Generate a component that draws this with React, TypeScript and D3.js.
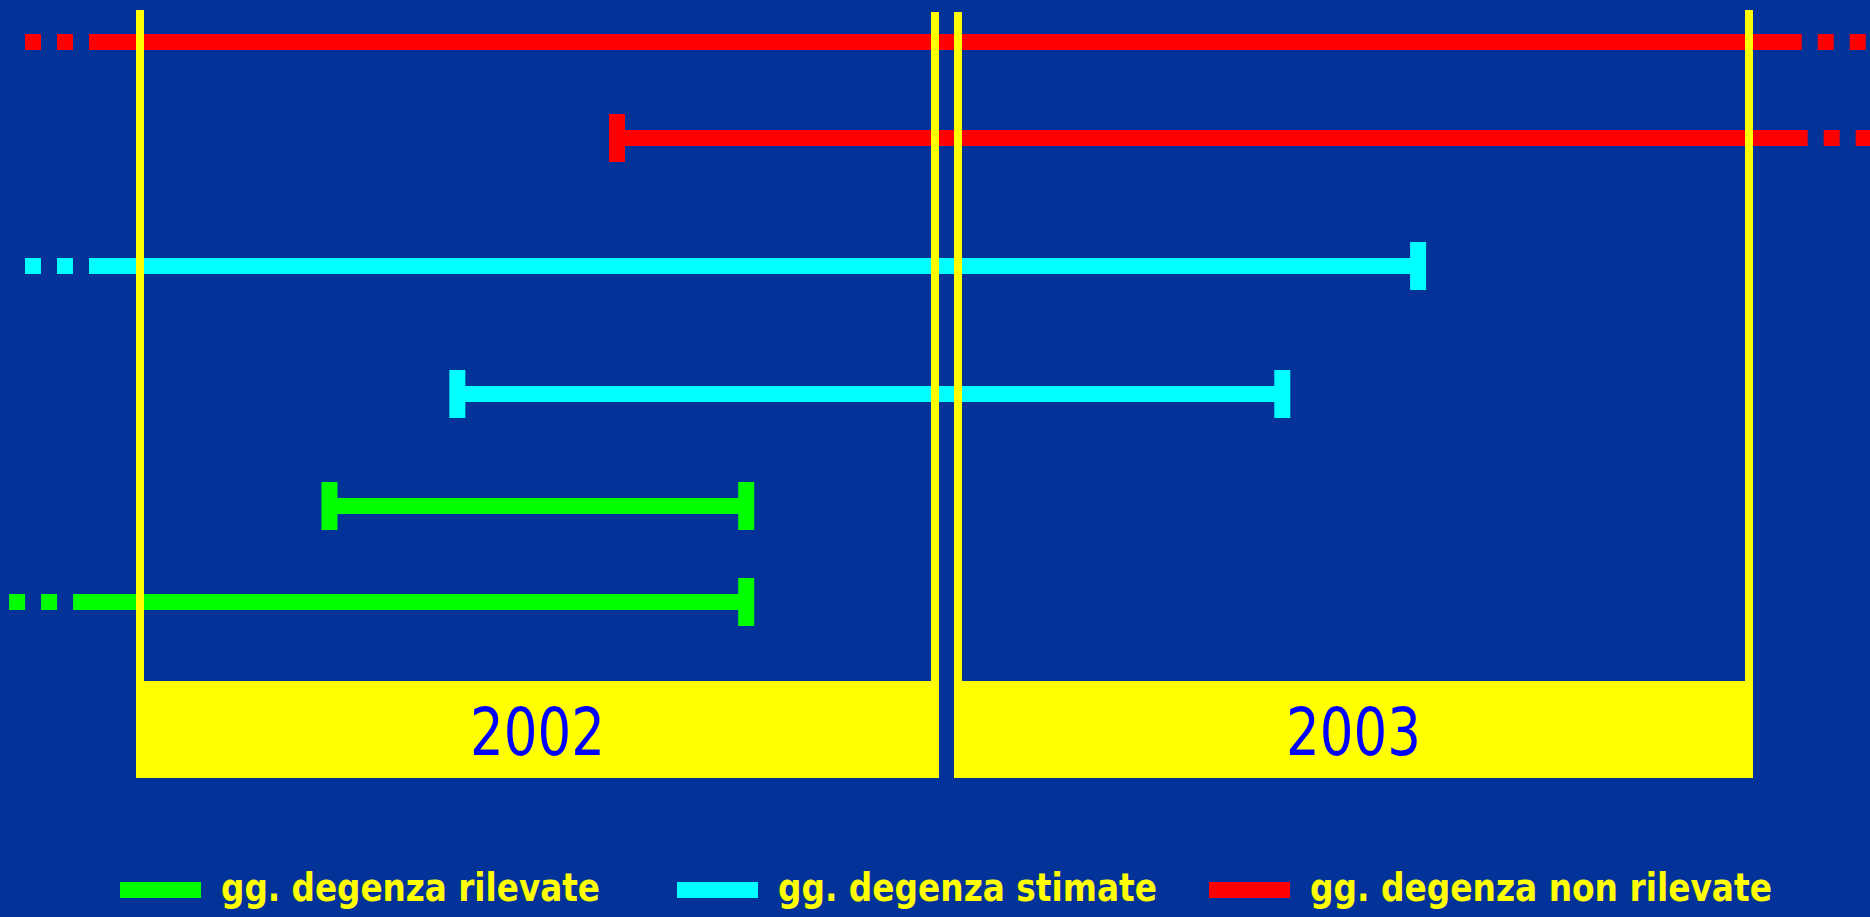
import React, { useEffect } from "react";
import * as d3 from "d3";

// ---- data ----
const years = [2002, 2003];
const categories = ["gg. degenza rilevate", "gg. degenza stimate", "gg. degenza non rilevate"];
const categoryColors = ["#00FF00", "#00FFFF", "#FF0000"];

const rowIds = ["r1", "r2", "c1", "c2", "g1", "g2"];
const rowCategory = [2, 2, 1, 1, 0, 0];
const startYear = [2002, 2002, 2002, 2002, 2002, 2002];
const startMonth = [-0.77, 7.2, -0.77, 4.79, 2.86, -1.01];
const startOpen = [true, false, true, false, false, true];
const endYear = [2003, 2003, 2003, 2003, 2002, 2002];
const endMonth = [12.8, 12.89, 6.98, 4.92, 9.15, 9.15];
const endOpen = [true, true, false, false, false, false];

// ---- layout ----
const W = 1870;
const H = 917;
const BG = "#033399";
const YELLOW = "#FFFF00";
const yearRanges: [number, number][] = [
  [140, 935],
  [958, 1749],
];
const rowYRange = [42, 138, 266, 394, 506, 602];
const LINE_W = 16;
const CAP_W = 16;
const CAP_H = 48;
const DASH = 16;
const BOX_TOP = 681;
const BOX_BOTTOM = 778;
const YLINE_W = 8;

export default function App() {
  useEffect(() => {
    document.body.style.margin = "0";
    document.body.style.background = BG;
  }, []);

  const xScales = new Map<number, d3.ScaleLinear<number, number>>();
  years.forEach((y, i) => {
    xScales.set(y, d3.scaleLinear().domain([0, 12]).range(yearRanges[i]));
  });
  const yScale = d3.scaleOrdinal<string, number>().domain(rowIds).range(rowYRange);

  const legendX = [120, 677, 1209];
  const legendTextLen = [379, 379, 462];

  return (
    <svg width={W} height={H} style={{ display: "block" }} xmlns="http://www.w3.org/2000/svg">
      <rect x={0} y={0} width={W} height={H} fill={BG} />

      {/* year boxes */}
      {years.map((yr) => {
        const s = xScales.get(yr)!;
        const x0 = s(0) - YLINE_W / 2;
        const x1 = s(12) + YLINE_W / 2;
        return (
          <g key={yr}>
            <rect x={x0} y={BOX_TOP} width={x1 - x0} height={BOX_BOTTOM - BOX_TOP} fill={YELLOW} />
            <text
              x={(x0 + x1) / 2}
              y={755}
              textAnchor="middle"
              fill="#0000FF"
              fontFamily="'DejaVu Sans', sans-serif"
              fontSize={66}
              textLength={135}
              lengthAdjust="spacingAndGlyphs"
            >
              {yr}
            </text>
          </g>
        );
      })}

      {/* intervals */}
      {rowIds.map((id, i) => {
        const color = categoryColors[rowCategory[i]];
        const y = yScale(id);
        const xs = xScales.get(startYear[i])!(startMonth[i]);
        const xe = xScales.get(endYear[i])!(endMonth[i]);
        const parts: React.ReactNode[] = [];
        parts.push(
          <rect key="l" x={xs} y={y - LINE_W / 2} width={xe - xs} height={LINE_W} fill={color} />
        );
        if (startOpen[i]) {
          [1, 2].forEach((k) =>
            parts.push(
              <rect key={"ls" + k} x={xs - DASH * 2 * k} y={y - LINE_W / 2} width={DASH} height={LINE_W} fill={color} />
            )
          );
        } else {
          parts.push(
            <rect key="lc" x={xs - CAP_W / 2} y={y - CAP_H / 2} width={CAP_W} height={CAP_H} fill={color} />
          );
        }
        if (endOpen[i]) {
          [1, 2].forEach((k) =>
            parts.push(
              <rect key={"rs" + k} x={xe + DASH * (2 * k - 1)} y={y - LINE_W / 2} width={DASH} height={LINE_W} fill={color} />
            )
          );
        } else {
          parts.push(
            <rect key="rc" x={xe - CAP_W / 2} y={y - CAP_H / 2} width={CAP_W} height={CAP_H} fill={color} />
          );
        }
        return <g key={id}>{parts}</g>;
      })}

      {/* year boundary lines */}
      {years.map((yr) => {
        const s = xScales.get(yr)!;
        return [0, 12].map((m) => {
          const outer = (yr === years[0] && m === 0) || (yr === years[years.length - 1] && m === 12);
          const top = outer ? 10 : 12;
          return (
            <rect
              key={yr + "-" + m}
              x={s(m) - YLINE_W / 2}
              y={top}
              width={YLINE_W}
              height={BOX_TOP - top}
              fill={YELLOW}
            />
          );
        });
      })}

      {/* legend */}
      {categories.map((c, i) => (
        <g key={c}>
          <rect x={legendX[i]} y={882} width={81} height={16} fill={categoryColors[i]} />
          <text
            x={legendX[i] + 101}
            y={901}
            fill={YELLOW}
            fontFamily="'DejaVu Sans', sans-serif"
            fontWeight="bold"
            fontSize={39}
            textLength={legendTextLen[i]}
            lengthAdjust="spacingAndGlyphs"
          >
            {c}
          </text>
        </g>
      ))}
    </svg>
  );
}
